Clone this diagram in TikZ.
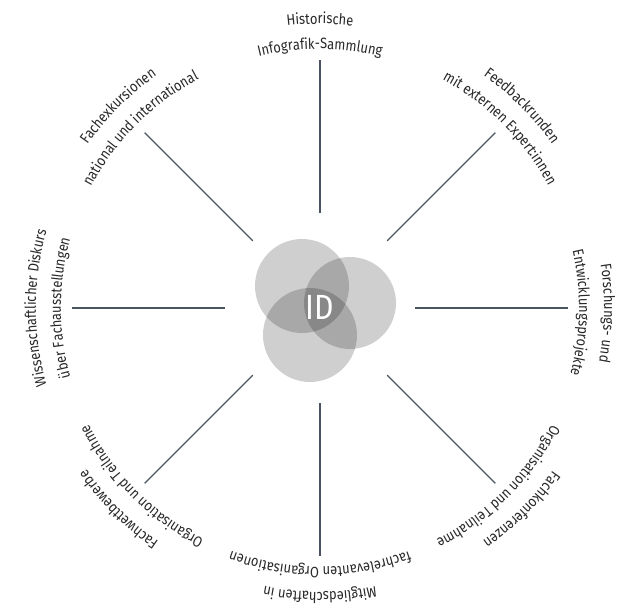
\documentclass[tikz,border=0pt]{standalone}
\usepackage{fontspec}
\newfontfamily\labelfont{Fira Sans}[FakeStretch=0.86]
\usetikzlibrary{decorations.text}
\definecolor{linegray}{RGB}{74,84,96}
\definecolor{textgray}{RGB}{40,40,43}
\newcommand\labelstyle{\labelfont\fontsize{15}{18}\selectfont\color{textgray}}
\newcommand\curvedlabel[3]{%
  \path[decorate,decoration={text along path,text align=center,text={|\labelstyle|#3}}]
    ({#1+70}:#2) arc[start angle={#1+70},end angle={#1-70},radius=#2];}
\tikzset{
  spoke/.style={draw=linegray,line width=1.4pt},
  blob/.style={fill=black,fill opacity=0.19},
}
\begin{document}
\begin{tikzpicture}[x=1pt,y=1pt]
\useasboundingbox (-320,-303) rectangle (319,308);
% circles
\fill[blob] (-18,22) circle[radius=47];
\fill[blob] (30,5) circle[radius=46];
\fill[blob] (-10,-27) circle[radius=47];
\node[text=white,font=\labelfont\fontsize{35}{35}\selectfont] (id) at (0,1) {ID};
% spokes
\foreach \a in {0,45,...,315}{
  \coordinate (in\a) at (\a:95);
  \coordinate (out\a) at (\a:248);
  \draw[spoke] (in\a) -- (out\a);
}
% labels
\def\ro{284}
\def\ri{259}
\curvedlabel{90}{\ro}{Historische}
\curvedlabel{90}{\ri}{Infografik-Sammlung}
\curvedlabel{45}{\ro}{Feedbackrunden}
\curvedlabel{45}{\ri}{mit externen Expert:innen}
\curvedlabel{-1}{\ro}{Forschungs- und}
\curvedlabel{-1}{\ri}{Entwicklungsprojekte}
\curvedlabel{-45}{\ro}{Fachkonferenzen}
\curvedlabel{-45}{\ri}{Organisation und Teilnahme}
\curvedlabel{-90}{\ro}{Mitgliedschaften in}
\curvedlabel{-90}{\ri}{fachrelevanten Organisationen}
\curvedlabel{-135}{\ro}{Fachwettbewerbe}
\curvedlabel{-135}{\ri}{Organisation und Teilnahme}
\curvedlabel{180}{\ro}{Wissenschaftlicher Diskurs}
\curvedlabel{180}{\ri}{über Fachausstellungen}
\curvedlabel{135}{\ro}{Fachexkursionen}
\curvedlabel{135}{\ri}{national und international}
\end{tikzpicture}
\end{document}
